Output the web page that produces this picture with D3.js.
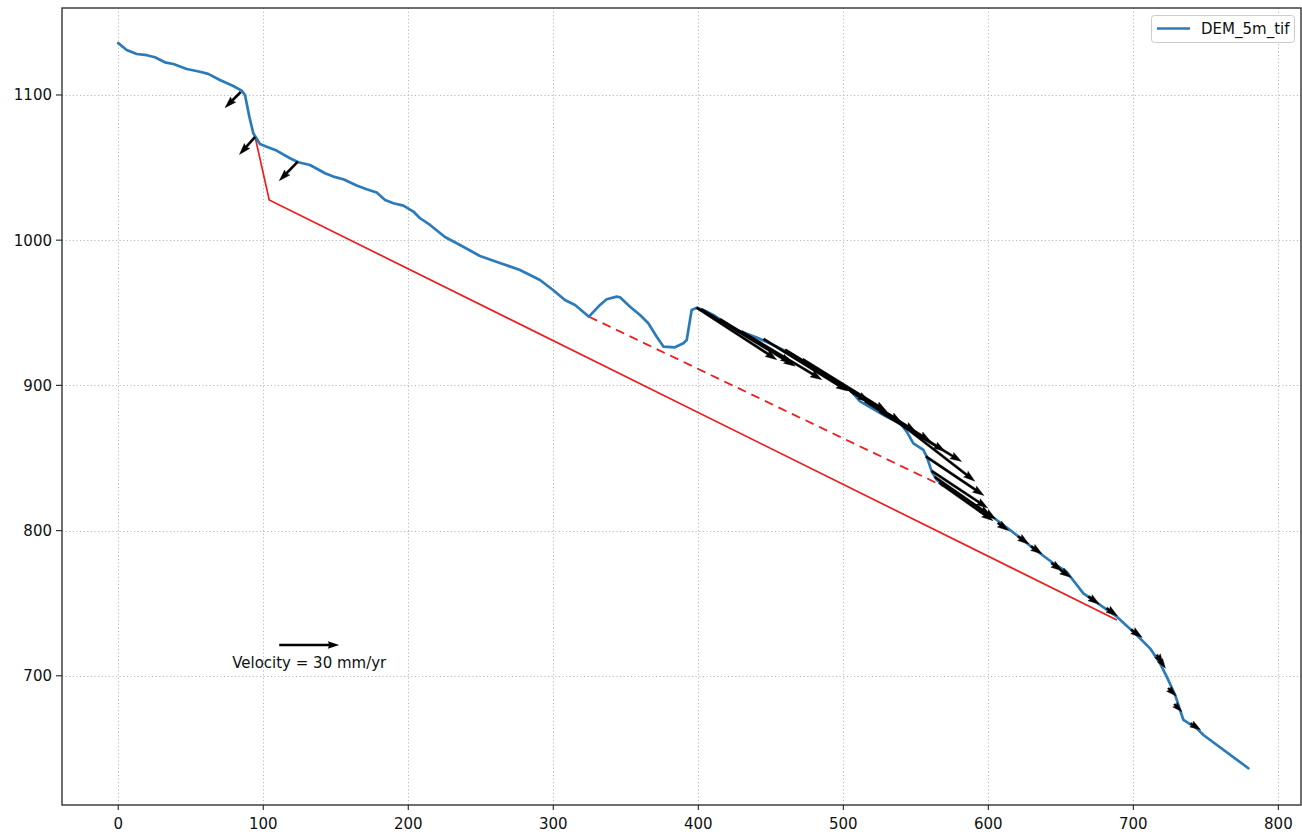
<!DOCTYPE html>
<html>
<head>
<meta charset="utf-8">
<script src="https://cdn.jsdelivr.net/npm/d3@7"></script>
<style>
  html, body { margin: 0; padding: 0; background: #fff; }
  svg { display: block; font-family: "DejaVu Sans", sans-serif; }
</style>
</head>
<body>
<svg id="chart" width="1302" height="832"></svg>
<script>
// ---------------- data ----------------
const profileX = [0, 5.8, 12.7, 19.7, 25.3, 32.2, 38, 47.2, 56.3, 62, 70.1, 79.3, 85.1, 87.4, 90.4, 93.1, 97.7,
  102.3, 109.2, 118.4, 124.2, 132.2, 142.6, 148.3, 155.2, 164.4, 171.3, 178.2, 184, 189.7, 196.6, 203.5, 208.1,
  215, 225.3, 235.7, 249.4, 263.2, 277, 290.8, 299.8, 308, 315, 324.6, 332.2, 336.8, 343.7, 346, 352.9, 359.8,
  365.5, 371.3, 375.9, 383.9, 389.7, 392, 395.4, 398.9, 405.8, 410.3, 417.2, 426.5, 440.3, 454, 463.2, 474.8,
  486.2, 497.7, 504.6, 511.5, 529.9, 539.1, 543.7, 548.3, 555.2, 557.5, 561, 564.4, 571.3, 585.1, 601.2, 615,
  631, 644.8, 654.1, 665.5, 677, 688.6, 702.3, 711.5, 718.4, 723, 728.8, 732.2, 734.5, 743.7, 748.3, 779.3];
const profileZ = [1135.7, 1131, 1128.2, 1127.4, 1126, 1122.5, 1121.3, 1117.9, 1116, 1114.5, 1110.3, 1106.2, 1103,
  1100, 1085, 1073.6, 1066.3, 1064.4, 1061.7, 1056.4, 1053.7, 1051.8, 1046.1, 1043.8, 1042, 1037.6, 1035.1,
  1032.8, 1027.7, 1025.4, 1023.8, 1019.7, 1015.1, 1010.5, 1002.2, 996.7, 989.1, 984.3, 979.5, 972.6, 965.7,
  958.8, 955.4, 947.3, 955.4, 959.3, 961.1, 960.7, 954.2, 948.5, 942.8, 933.5, 926.7, 926.2, 929, 931.3, 951.9,
  953.5, 950.8, 948.5, 943.9, 938.2, 933, 926.7, 922.1, 915.2, 908.3, 899.5, 896.8, 889, 878.4, 873.9, 868.1,
  860.1, 855.5, 850.9, 840.6, 834.9, 830.2, 821.1, 810.7, 800.4, 787.8, 777.5, 771.5, 756.8, 748.8, 740.7,
  728.1, 718.9, 708.6, 699.4, 686.8, 676.4, 669.6, 663.8, 659.2, 636.3];

const redSolidX = [94.3, 104.1, 688.6];
const redSolidZ = [1071.3, 1027.7, 738.4];
const redDashX = [324.6, 569];
const redDashZ = [947.3, 830.5];

// velocity arrows: tail position (distance, elevation) and components (mm/yr)
const arrowX = [84.4, 94.3, 123.7, 398.9, 402, 415, 430, 445, 460, 472, 485, 495, 505, 515, 525, 539, 557, 561,
  563, 566, 597.5, 606.5, 620.5, 629.5, 643.5, 649.5, 669, 681.5, 698.5, 716.2, 718, 724, 728.2, 739.5];
const arrowZ = [1102, 1071, 1054, 953.5, 952.5, 945.5, 937, 932, 924.5, 918, 909, 902.5, 896, 889, 882, 874, 851,
  841, 837, 833, 813.2, 805.3, 796, 789.2, 777.6, 773, 754.6, 746.6, 731.8, 714.5, 711.3, 691.5, 680.5, 667.2];
const arrowU = [-7.8, -7.8, -9.2, 40, 47, 36, 40, 42, 42, 42, 40, 40, 40, 40, 41, 37.5, 29, 28, 28, 27, 5.5, 5.5,
  5.5, 5.5, 5.5, 5.5, 5.5, 5.5, 5.5, 3.2, 3, 4, 3.8, 5];
const arrowV = [-7.8, -8.7, -9.5, -26, -28.5, -22, -24, -26, -26, -26, -25, -25, -25, -25, -25, -29, -19.5,
  -18.5, -19.5, -19, -3.9, -3.9, -3.9, -3.9, -3.9, -3.9, -3.9, -3.9, -3.9, -5, -4.4, -4, -3.8, -3.2];

const keyVelocity = 30;
const keyX = 111, keyZ = 721.2;
const keyLabel = "Velocity = 30 mm/yr";
const legendLabel = "DEM_5m_tif";

const xTicks = [0, 100, 200, 300, 400, 500, 600, 700, 800];
const yTicks = [700, 800, 900, 1000, 1100];

// ---------------- layout ----------------
const svg = d3.select("#chart");
const L = 62, R = 1301, T = 8, B = 805;
const x = d3.scaleLinear().domain([-38.8, 815.6]).range([L, R]);
const y = d3.scaleLinear().domain([611.0, 1159.9]).range([B, T]);
const vel = d3.scaleLinear().domain([0, 30]).range([0, 60]); // px per mm/yr

svg.append("rect").attr("width", 1302).attr("height", 832).attr("fill", "#fff");

// grid
const grid = svg.append("g").attr("stroke", "#b8b8b8").attr("stroke-width", 1)
  .attr("stroke-dasharray", "1.2,2.4");
grid.selectAll("line.gx").data(xTicks).join("line")
  .attr("x1", d => Math.round(x(d)) + 0.5).attr("x2", d => Math.round(x(d)) + 0.5)
  .attr("y1", T).attr("y2", B);
grid.selectAll("line.gy").data(yTicks).join("line")
  .attr("y1", d => Math.round(y(d)) + 0.5).attr("y2", d => Math.round(y(d)) + 0.5)
  .attr("x1", L).attr("x2", R);

// clip
svg.append("defs").append("clipPath").attr("id", "clip")
  .append("rect").attr("x", L).attr("y", T).attr("width", R - L).attr("height", B - T);
const plot = svg.append("g").attr("clip-path", "url(#clip)");

// red lines
const redLine = d3.line().x(d => x(d[0])).y(d => y(d[1]));
plot.append("path").datum(redSolidX.map((v, i) => [v, redSolidZ[i]]))
  .attr("d", redLine).attr("fill", "none").attr("stroke", "#ee1c1c").attr("stroke-width", 1.7);
plot.append("path").datum(redDashX.map((v, i) => [v, redDashZ[i]]))
  .attr("d", redLine).attr("fill", "none").attr("stroke", "#ee1c1c").attr("stroke-width", 1.8)
  .attr("stroke-dasharray", "9,6");

// profile
plot.append("path").datum(profileX.map((v, i) => [v, profileZ[i]]))
  .attr("d", d3.line().x(d => x(d[0])).y(d => y(d[1])))
  .attr("fill", "none").attr("stroke", "#2b7bba").attr("stroke-width", 2.7)
  .attr("stroke-linejoin", "round").attr("stroke-linecap", "round");

// arrows (quiver-style polygons)
function arrowPath(px, py, dx, dy) {
  const len = Math.hypot(dx, dy);
  const w = 2.3;
  let hl = 5 * w, hal = 4.5 * w, hw = 3.2 * w, sw = w;
  if (len < hl * 1.1) {
    const s = len / (hl * 1.1);
    hl *= s; hal *= s; hw *= Math.max(s, 0.85); sw *= s;
  }
  const ux = dx / len, uy = dy / len, nx = -uy, ny = ux;
  const pts = [[0, -sw / 2], [len - hal, -sw / 2], [len - hl, -hw / 2], [len, 0], [len - hl, hw / 2],
    [len - hal, sw / 2], [0, sw / 2]];
  return "M" + pts.map(p => [px + ux * p[0] + nx * p[1], py + uy * p[0] + ny * p[1]].join(",")).join("L") + "Z";
}
const arrows = arrowX.map((v, i) => ({ x: v, z: arrowZ[i], u: arrowU[i], v: arrowV[i] }));
plot.append("g").selectAll("path").data(arrows).join("path")
  .attr("d", d => arrowPath(x(d.x), y(d.z), vel(d.u), -vel(d.v)))
  .attr("fill", "#000").attr("stroke", "#000").attr("stroke-width", 0.4);

// key arrow
plot.append("path").attr("d", arrowPath(x(keyX), y(keyZ), vel(keyVelocity), 0)).attr("fill", "#000");
svg.append("text").attr("x", x(keyX) + vel(keyVelocity) / 2).attr("y", y(keyZ) + 23)
  .attr("text-anchor", "middle").attr("font-size", 15).attr("fill", "#111").text(keyLabel);

// spines
svg.append("rect").attr("x", L).attr("y", T).attr("width", R - L).attr("height", B - T)
  .attr("fill", "none").attr("stroke", "#333").attr("stroke-width", 1.4);

// axes ticks and labels
const xAxis = svg.append("g");
xAxis.selectAll("line").data(xTicks).join("line")
  .attr("x1", d => x(d)).attr("x2", d => x(d)).attr("y1", B).attr("y2", B + 5)
  .attr("stroke", "#333").attr("stroke-width", 1.2);
xAxis.selectAll("text").data(xTicks).join("text")
  .attr("x", d => x(d)).attr("y", B + 24).attr("text-anchor", "middle")
  .attr("font-size", 15).attr("fill", "#111").text(d => d);

const yAxis = svg.append("g");
yAxis.selectAll("line").data(yTicks).join("line")
  .attr("x1", L - 6).attr("x2", L).attr("y1", d => y(d)).attr("y2", d => y(d))
  .attr("stroke", "#333").attr("stroke-width", 1.2);
yAxis.selectAll("text").data(yTicks).join("text")
  .attr("x", L - 10).attr("y", d => y(d)).attr("dy", "0.36em").attr("text-anchor", "end")
  .attr("font-size", 15).attr("fill", "#111").text(d => d);

// legend
const lg = svg.append("g");
lg.append("rect").attr("x", 1151.5).attr("y", 15.5).attr("width", 143).attr("height", 27).attr("rx", 3)
  .attr("fill", "#fff").attr("fill-opacity", 0.9).attr("stroke", "#cccccc");
lg.append("line").attr("x1", 1157).attr("x2", 1190).attr("y1", 28.5).attr("y2", 28.5)
  .attr("stroke", "#2b7bba").attr("stroke-width", 2.7);
lg.append("text").attr("x", 1201).attr("y", 28.5).attr("dy", "0.36em")
  .attr("font-size", 15).attr("fill", "#111").text(legendLabel);
</script>
</body>
</html>
